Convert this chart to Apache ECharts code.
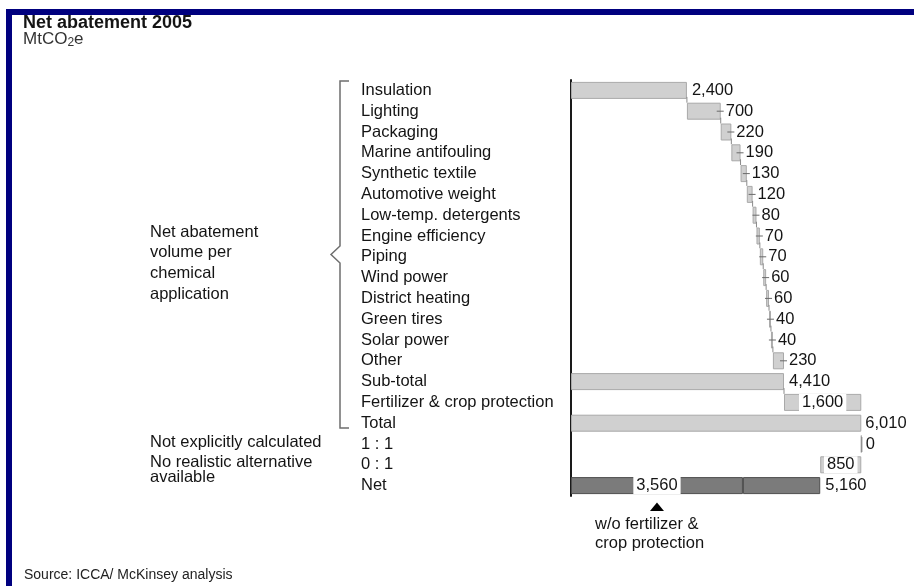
<!DOCTYPE html>
<html><head><meta charset="utf-8">
<script src="https://cdn.jsdelivr.net/npm/echarts@6/dist/echarts.min.js"></script>
<style>html,body{margin:0;padding:0;background:#fff}#c{width:914px;height:586px}</style>
</head><body><div id="c"></div>
<script>
// ---------- data ----------
const categories = ['Insulation','Lighting','Packaging','Marine antifouling','Synthetic textile','Automotive weight','Low-temp. detergents','Engine efficiency','Piping','Wind power','District heating','Green tires','Solar power','Other','Sub-total','Fertilizer & crop protection','Total','1 : 1','0 : 1','Net'];
const baseValues = [0,2400,3100,3320,3510,3640,3760,3840,3910,3980,4040,4100,4140,4180,0,4410,0,6010,5160,0];
const barValues  = [2400,700,220,190,130,120,80,70,70,60,60,40,40,230,4410,1600,6010,0,850,3560];
const netSecondValues = ['-','-','-','-','-','-','-','-','-','-','-','-','-','-','-','-','-','-','-',1600];
const labelKinds = ['right','dash','dash','dash','dash','dash','dash','dash','dash','dash','dash','dash','dash','dash','right','inside','right','tick','inside','inside'];
const titleText = 'Net abatement 2005';
const unitParts = ['MtCO','2','e'];
const groupText = ['Net abatement','volume per','chemical','application'];
const noteText1 = 'Not explicitly calculated';
const noteText2 = ['No realistic alternative','available'];
const annotationText = ['w/o fertilizer &','crop protection'];
const sourceText = 'Source: ICCA/ McKinsey analysis';

// ---------- chart ----------
const FONT = '"Liberation Sans", Arial, Helvetica, sans-serif';
const FS = 16.5;
const TXT = '#141414';
const X_MAX = 6600;
const PX_PER_UNIT = 0.0483;
const BAR_H = 17;
const fmt = v => Number(v).toLocaleString('en-US');
const lightStyle = {color:'#d0d0d0', borderColor:'#a9a9a9', borderWidth:1};
const darkStyle = {color:'#7b7b7b', borderColor:'#4e4e4e', borderWidth:1};
const lastIdx = categories.length - 1;

function measure(text, font){
  const cv = document.createElement('canvas').getContext('2d');
  cv.font = font; return cv.measureText(text).width;
}

const mainData = barValues.map((v,i)=>{
  const kind = labelKinds[i];
  const item = {value:v, itemStyle: i===lastIdx ? darkStyle : lightStyle};
  if (kind === 'inside') {
    item.label = {show:true, position:'inside', backgroundColor:'#fff', padding:[0,3], lineHeight:BAR_H};
  } else {
    item.label = {show:true, position:'right', distance: (i===16||kind==='tick') ? 4 : 5};
  }
  return item;
});

const decoData = barValues.map((v,i)=>[baseValues[i], baseValues[i]+v, i]);

function renderDeco(params, api){
  const i = api.value(2);
  const s = api.value(0), e = api.value(1);
  const kind = labelKinds[i];
  const children = [];
  const pE = api.coord([e, i]);
  const pS = api.coord([s, i]);
  const lineSt = {stroke:'#6a6a6a', lineWidth:1};
  if ((kind === 'dash' || i === 15) && i > 0) {
    const prevY = api.coord([0, i-1])[1];
    children.push({type:'line', shape:{x1:pS[0], y1:prevY + BAR_H/2 - 2, x2:pS[0], y2:pS[1] - BAR_H/2}, style:{stroke:'#8a8a8a', lineWidth:1}});
  }
  if (kind === 'dash') {
    children.push({type:'line', shape:{x1:pE[0]-4, y1:pE[1], x2:pE[0]+3, y2:pE[1]}, style:lineSt});
  }
  if (kind === 'tick') {
    children.push({type:'line', shape:{x1:pE[0]+0.5, y1:pE[1]-7, x2:pE[0]+0.5, y2:pE[1]+8}, style:{stroke:'#8a8a8a', lineWidth:1.2}});
  }
  if (i === lastIdx) {
    const cx = api.coord([ (s+e)/2, i])[0];
    const cy = pE[1];
    children.push({type:'polygon', shape:{points:[[cx, cy+17],[cx-7, cy+25.5],[cx+7, cy+25.5]]}, style:{fill:'#000'}});
    children.push({type:'text', style:{text:annotationText[0], x:cx-62, y:cy+38.5, font:FS+'px '+FONT, fill:TXT, verticalAlign:'middle'}});
    children.push({type:'text', style:{text:annotationText[1], x:cx-62, y:cy+57.5, font:FS+'px '+FONT, fill:TXT, verticalAlign:'middle'}});
  }
  return {type:'group', children};
}

const unitFont = '17px ' + FONT;
const subFont = '12px ' + FONT;
const w1 = measure(unitParts[0], unitFont);
const w2 = measure(unitParts[1], subFont);

const option = {
  animation:false,
  backgroundColor:'#fff',
  textStyle:{fontFamily:FONT},
  grid:{left:571, top:80, width:X_MAX*PX_PER_UNIT, height:416, containLabel:false},
  xAxis:{type:'value', min:0, max:X_MAX, show:false},
  yAxis:{type:'category', data:categories, inverse:true,
    axisLine:{show:true, lineStyle:{color:'#1a1a1a', width:2}},
    axisTick:{show:false}, splitLine:{show:false},
    axisLabel:{interval:0, align:'left', margin:210, color:TXT, fontSize:FS, fontFamily:FONT}},
  series:[
    {name:'base', type:'bar', stack:'w', barWidth:BAR_H, silent:true, itemStyle:{color:'transparent'}, data:baseValues},
    {name:'value', type:'bar', stack:'w', barWidth:BAR_H, silent:true,
      label:{show:true, formatter:p=>fmt(p.value), fontSize:FS, color:TXT, fontFamily:FONT},
      data:mainData},
    {name:'net2', type:'bar', stack:'w', barWidth:BAR_H, silent:true, itemStyle:darkStyle,
      label:{show:true, position:'right', distance:5, fontSize:FS, color:TXT, fontFamily:FONT,
        formatter:p=>fmt(barValues[lastIdx] + p.value)},
      data:netSecondValues},
    {name:'deco', type:'custom', clip:false, silent:true, renderItem:renderDeco,
      encode:{x:[0,1], y:2}, data:decoData, z:5}
  ],
  graphic:[
    {type:'rect', shape:{x:6, y:9, width:908, height:6}, style:{fill:'#00007f'}, silent:true},
    {type:'rect', shape:{x:6, y:9, width:6, height:577}, style:{fill:'#00007f'}, silent:true},
    {type:'text', x:23, y:23.5, style:{text:titleText, font:'bold 18px '+FONT, fill:TXT, verticalAlign:'middle'}},
    {type:'text', x:23, y:39, style:{text:unitParts[0], font:unitFont, fill:'#333', verticalAlign:'middle'}},
    {type:'text', x:23+w1, y:43, style:{text:unitParts[1], font:subFont, fill:'#333', verticalAlign:'middle'}},
    {type:'text', x:23+w1+w2, y:39, style:{text:unitParts[2], font:unitFont, fill:'#333', verticalAlign:'middle'}},
    {type:'text', x:150, y:221.6, style:{text:groupText.join('\n'), font:FS+'px '+FONT, lineHeight:20.8, fill:TXT, verticalAlign:'top'}},
    {type:'polyline', shape:{points:[[349,81],[340,81],[340,246],[331,254.5],[340,263],[340,428],[349,428]]}, style:{stroke:'#6e6e6e', lineWidth:1.5, fill:null}},
    {type:'text', x:150, y:442, style:{text:noteText1, font:FS+'px '+FONT, fill:TXT, verticalAlign:'middle'}},
    {type:'text', x:150, y:454.5, style:{text:noteText2.join('\n'), font:FS+'px '+FONT, lineHeight:15, fill:TXT, verticalAlign:'top'}},
    {type:'text', x:24, y:575, style:{text:sourceText, font:'14px '+FONT, fill:'#222', verticalAlign:'middle'}}
  ]
};
const chart = echarts.init(document.getElementById('c'), null, {renderer:'canvas'});
chart.setOption(option);
</script></body></html>
